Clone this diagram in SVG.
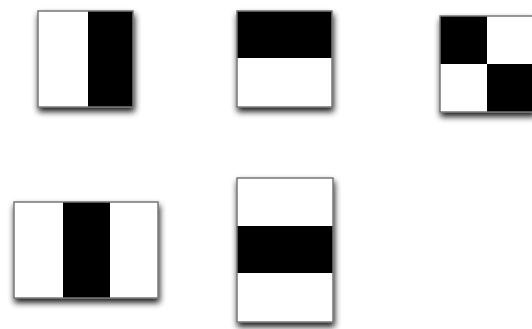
<svg xmlns="http://www.w3.org/2000/svg" width="532" height="329" viewBox="0 0 532 329">
<defs>
<filter id="sh" x="-20%" y="-20%" width="140%" height="140%">
<feGaussianBlur in="SourceAlpha" stdDeviation="3"/>
<feOffset dx="1" dy="4" result="b"/>
<feComponentTransfer><feFuncA type="linear" slope="0.9"/></feComponentTransfer>
<feMerge><feMergeNode/><feMergeNode in="SourceGraphic"/></feMerge>
</filter>
<filter id="soft" x="-5%" y="-5%" width="110%" height="110%">
<feGaussianBlur stdDeviation="0.7"/>
</filter>
</defs>
<style>
.w{fill:#fff}
.k{fill:#000}
.f{fill:none;stroke:#777;stroke-width:1.5}
</style>
<rect width="532" height="329" fill="#fff"/>
<g filter="url(#soft)">
<g id="f1" filter="url(#sh)">
<rect class="w" x="38" y="11" width="95" height="96"/>
<rect class="k" x="88" y="11" width="45" height="96"/>
<rect class="f" x="38" y="11" width="95" height="96"/>
</g>
<g id="f2" filter="url(#sh)">
<rect class="w" x="237" y="11" width="95" height="96"/>
<rect class="k" x="237" y="11" width="95" height="47"/>
<rect class="f" x="237" y="11" width="95" height="96"/>
</g>
<g id="f3" filter="url(#sh)">
<rect class="w" x="440" y="16" width="94" height="96"/>
<rect class="k" x="440" y="16" width="47" height="48"/>
<rect class="k" x="487" y="64" width="47" height="48"/>
<rect class="f" x="440" y="16" width="94" height="96"/>
</g>
<g id="f4" filter="url(#sh)">
<rect class="w" x="14" y="202" width="144" height="96"/>
<rect class="k" x="63" y="202" width="47" height="96"/>
<rect class="f" x="14" y="202" width="144" height="96"/>
</g>
<g id="f5" filter="url(#sh)">
<rect class="w" x="237" y="178" width="96" height="144"/>
<rect class="k" x="237" y="226" width="96" height="47"/>
<rect class="f" x="237" y="178" width="96" height="144"/>
</g>
</g>
<g id="connectors"/>
</svg>
